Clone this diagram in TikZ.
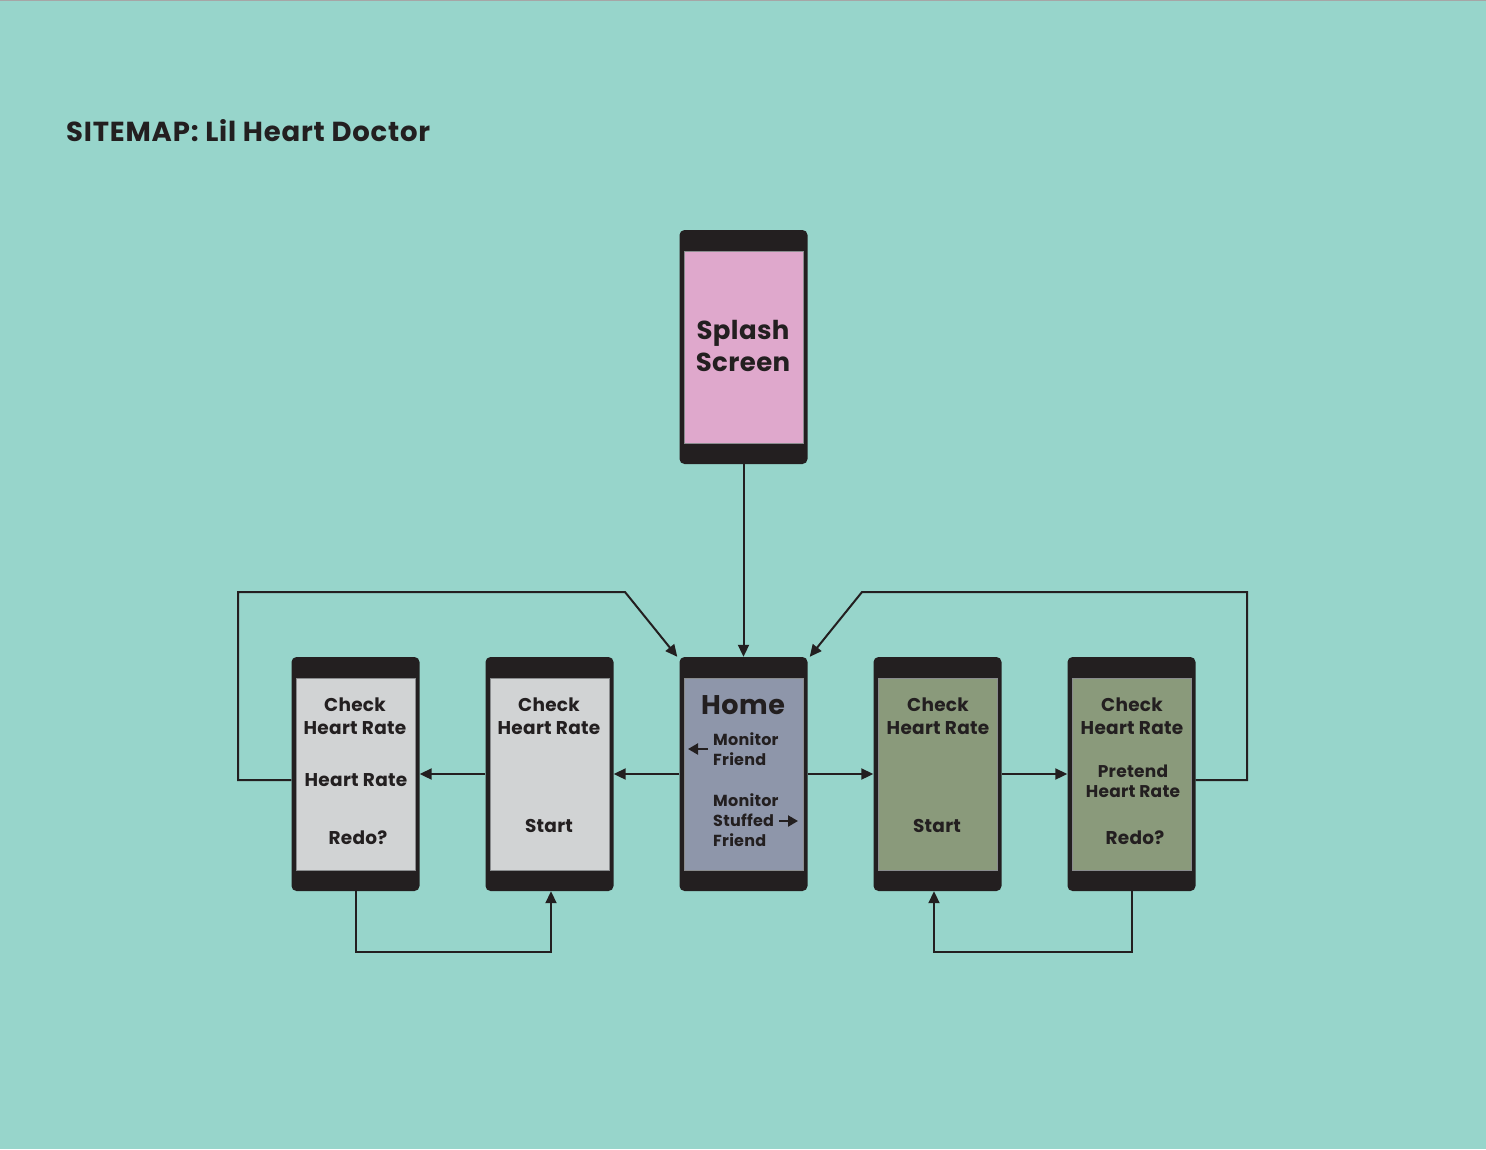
\documentclass[tikz,border=0pt]{standalone}
\usepackage{fontspec}
\setmainfont{Poppins}
\usetikzlibrary{arrows.meta,calc}
\definecolor{bg}{HTML}{97D5CB}
\definecolor{dark}{HTML}{231F20}
\definecolor{pinkscr}{HTML}{DFA8CC}
\definecolor{homescr}{HTML}{8E96AA}
\definecolor{greyscr}{HTML}{D1D3D4}
\definecolor{greenscr}{HTML}{8A9A7B}
\definecolor{scrline}{HTML}{8A8C8E}
\tikzset{
  phone/.style={draw=none, fill=dark, rounded corners=5pt, minimum width=128pt, minimum height=234pt, inner sep=0pt},
  screen/.style={draw=scrline, line width=0.8pt, minimum width=119pt, minimum height=192pt, inner sep=0pt},
  lbl/.style={text=dark, font=\fontsize{18.5}{23}\selectfont\bfseries\addfontfeature{LetterSpace=1.5}, align=center, inner sep=0pt},
  small/.style={text=dark, font=\fontsize{16}{20}\selectfont\bfseries\addfontfeature{LetterSpace=1.5}, align=left, inner sep=0pt},
  big/.style={text=dark, font=\fontsize{26}{32}\selectfont\bfseries\addfontfeature{LetterSpace=1.5}, align=center, inner sep=0pt},
  conn/.style={draw=dark, line width=2pt, -{Triangle[length=12pt,width=11pt]}},
  plain/.style={draw=dark, line width=2pt}
}
\begin{document}
\begin{tikzpicture}[x=1pt,y=-1pt]
\fill[bg] (0,0) rectangle (1486,1149);
\useasboundingbox (0,0) rectangle (1486,1149);
\draw[gray!70, line width=1pt] (0,0.5) -- (1486,0.5);

\node[anchor=west, text=dark, font=\fontsize{27.5}{32}\selectfont\bfseries\addfontfeature{LetterSpace=3}, inner sep=0pt] (title) at (66,131) {SITEMAP: Lil Heart Doctor};

% phones
\node[phone] (splash) at (743.5,347) {};
\node[screen, fill=pinkscr] (splashS) at (splash.center) {};
\node[phone] (p1) at (355.5,774) {};
\node[screen, fill=greyscr] (p1S) at (p1.center) {};
\node[phone] (p2) at (549.5,774) {};
\node[screen, fill=greyscr] (p2S) at (p2.center) {};
\node[phone] (home) at (743.5,774) {};
\node[screen, fill=homescr] (homeS) at (home.center) {};
\node[phone] (p4) at (937.5,774) {};
\node[screen, fill=greenscr] (p4S) at (p4.center) {};
\node[phone] (p5) at (1131.5,774) {};
\node[screen, fill=greenscr] (p5S) at (p5.center) {};

% texts
\node[big] (tsplash) at (743,346) {Splash\\Screen};
\node[big, font=\fontsize{27}{32}\selectfont\bfseries\addfontfeature{LetterSpace=2}] (thome) at (743,705) {Home};
\node[small, anchor=west] (tmf) at (713,749) {Monitor\\Friend};
\node[small, anchor=west] (tmsf) at (713,820) {Monitor\\Stuffed\\Friend};

\node[lbl] (t1a) at (355,716) {Check\\Heart Rate};
\node[lbl] (t1b) at (356,780) {Heart Rate};
\node[lbl] (t1c) at (358,838) {Redo?};
\node[lbl] (t2a) at (549,716) {Check\\Heart Rate};
\node[lbl] (t2b) at (549,826) {Start};
\node[lbl] (t4a) at (938,716) {Check\\Heart Rate};
\node[lbl] (t4b) at (937,826) {Start};
\node[lbl] (t5a) at (1132,716) {Check\\Heart Rate};
\node[lbl, font=\fontsize{17}{20}\selectfont\bfseries\addfontfeature{LetterSpace=1.5}] (t5b) at (1133,781) {Pretend\\Heart Rate};
\node[lbl] (t5c) at (1135,838) {Redo?};

% small arrows in home
\coordinate (la1) at (708,749);
\coordinate (la2) at (688,749);
\coordinate (ra1) at (779,821);
\coordinate (ra2) at (798,821);
\draw[conn, line width=2.2pt, -{Triangle[length=10pt,width=11pt]}] (la1) -- (la2);
\draw[conn, line width=2.2pt, -{Triangle[length=10pt,width=11pt]}] (ra1) -- (ra2);

% connectors
\draw[conn] (splash.south) -- (home.north);
\draw[conn] (home.west) -- (p2.east);
\draw[conn] (p2.west) -- (p1.east);
\draw[conn] (home.east) -- (p4.west);
\draw[conn] (p4.east) -- (p5.west);

\coordinate (lc1) at (238,592);
\coordinate (lc2) at (625,592);
\coordinate (rc1) at (1247,592);
\coordinate (rc2) at (862,592);
\draw[conn] ($(p1.west)+(0,6)$) -| (lc1) -- (lc2) -- ($(home.north west)+(-2,0)$);
\draw[conn] ($(p5.east)+(0,6)$) -| (rc1) -- (rc2) -- ($(home.north east)+(2,0)$);

\coordinate (lb) at (355.5,952);
\coordinate (rb) at (1131.5,952);
\draw[conn] (p1.south) -- (lb) -| ($(p2.south)+(1.5,0)$);
\draw[conn] (p5.south) -- (rb) -| ($(p4.south)+(-3.5,0)$);
\end{tikzpicture}
\end{document}
